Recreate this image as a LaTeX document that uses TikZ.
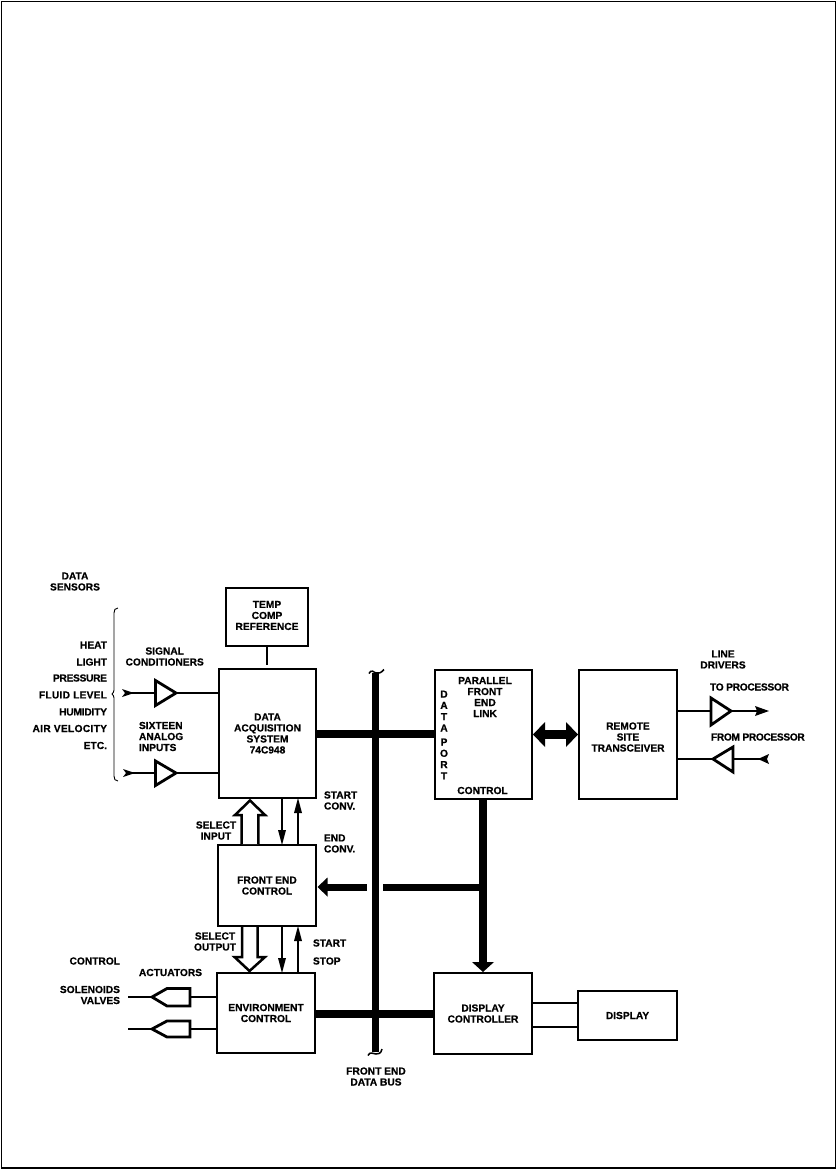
\documentclass[tikz,border=0pt]{standalone}
\usepackage{fontspec}
\setmainfont{Liberation Sans}[BoldFeatures={FakeBold=0.5}]
\usetikzlibrary{calc}
\newcommand{\spaced}[2]{{\addfontfeature{LetterSpace=#1}#2}}
\tikzset{
  x=1pt,y=-1pt,
  txt/.style={inner sep=0pt,outer sep=0pt,align=center,font=\fontsize{10.2}{11}\selectfont\bfseries},
  txtr/.style={txt,align=right,anchor=east},
  txtl/.style={txt,align=left,anchor=west},
  blockbox/.style={txt,draw=black,line width=2.7pt,fill=white,outer sep=0pt},
  wire/.style={draw=black,line width=2.6pt},
  bus/.style={draw=black,line width=7.5pt},
  amp/.style={draw=black,line width=2.8pt,fill=white,line join=miter},
  hollow/.style={draw=black,line width=2.5pt,fill=white,line join=miter},
  squiggle/.style={draw=black,line width=1.5pt}
}
\begin{document}
\begin{tikzpicture}
\useasboundingbox (0,0) rectangle (837,1169);
\fill[white] (0,0) rectangle (837,1169);
\draw[black,line width=1.3pt] (1.5,1.5) rectangle (835.5,1168);

% blocks
\node[blockbox,minimum width=82pt,minimum height=58pt] (temp) at (267,617) {};
\node[blockbox,minimum width=97pt,minimum height=129pt] (das) at (267.5,733.5) {DATA\\ACQUISITION\\SYSTEM\\74C948};
\node[blockbox,minimum width=98pt,minimum height=81pt] (fec) at (267,885.5) {FRONT END\\CONTROL};
\node[blockbox,minimum width=98pt,minimum height=80pt] (env) at (266,1013) {ENVIRONMENT\\CONTROL};
\node[blockbox,minimum width=97pt,minimum height=129pt] (pfl) at (483.5,734.5) {};
\node[blockbox,minimum width=98pt,minimum height=129pt] (rst) at (628,734.5) {};
\node[blockbox,minimum width=98pt,minimum height=81pt] (dc) at (483,1013.5) {DISPLAY\\CONTROLLER};
\node[blockbox,minimum width=99pt,minimum height=49pt] (dsp) at (627.5,1015.5) {DISPLAY};

% named points
\coordinate (bustop) at (375.5,673);
\coordinate (busbot) at (375.5,1052);
\coordinate (ybusA) at (0,734);
\coordinate (ybusB) at (0,1014);
\coordinate (yctl) at (0,887);
\coordinate (xctl) at (483,0);
\coordinate (tempend) at (267,664.5);
\coordinate (a1in) at (155.5,693);
\coordinate (a1out) at (176,693);
\coordinate (a2in) at (155.5,773);
\coordinate (a2out) at (176,773);
\coordinate (src1) at (128,693);
\coordinate (src2) at (128,773);
\coordinate (act1in) at (190,997);
\coordinate (act1out) at (128,997);
\coordinate (act2in) at (190,1029);
\coordinate (act2out) at (128,1029);
\coordinate (act1tip) at (152,997);
\coordinate (act2tip) at (152,1029);
\coordinate (d1in) at (711,711);
\coordinate (d1out) at (731,711);
\coordinate (d1end) at (762,711);
\coordinate (d2out) at (713,759);
\coordinate (d2in) at (733,759);
\coordinate (d2end) at (766,759);
\coordinate (xA) at (282,0);
\coordinate (xB) at (298,0);
\coordinate (ylink1) at (0,1003);
\coordinate (ylink2) at (0,1027);
\coordinate (gapL) at (367,887);
\coordinate (gapR) at (383,887);

% bus
\draw[bus] (bustop) -- (busbot);
\draw[squiggle] (369,673.5) .. controls (371,669) and (374,672) .. (376,673) .. controls (378,674) and (381,673) .. (384,669.5);
\draw[squiggle] (368,1055.5) .. controls (370,1051) and (373,1054) .. (376,1054) .. controls (378,1054) and (381,1054) .. (382,1049);
\draw[bus] (das.east |- ybusA) -- (pfl.west |- ybusA);
\draw[bus] (env.east |- ybusB) -- (dc.west |- ybusB);
\draw[wire] (temp.south) -- (tempend);

% control bus
\draw[bus,line width=8pt] (xctl |- pfl.south) -- (xctl |- 0,963);
\draw[bus,line width=7pt] (gapR) -- (xctl |- yctl);
\draw[bus,line width=7pt] ($(fec.east |- yctl)+(9,0)$) -- (gapL);
\fill[black] ($(fec.east |- yctl)+(1.5,0)$) -- +(10,-9.5) -- +(10,9.5) -- cycle;
\fill[black] ($(xctl |- dc.north)+(0,-1)$) -- +(-11,-10) -- +(11,-10) -- cycle;

% bidirectional
\draw[bus,line width=9pt] ($(pfl.east)+(12,0)$) -- ($(rst.west)+(-12,0)$);
\fill[black] ($(pfl.east)+(1,0)$) -- +(12,-12.5) -- +(12,12.5) -- cycle;
\fill[black] ($(rst.west)+(-1,0)$) -- +(-12,-12.5) -- +(-12,12.5) -- cycle;

% input side
\draw[wire] (src1) -- (a1in);
\draw[wire] (a1out) -- (a1out -| das.west);
\draw[wire] (src2) -- (a2in);
\draw[wire] (a2out) -- (a2out -| das.west);
\fill[black] (122,689) -- (134,693) -- (122,697) -- (125,693) -- cycle;
\fill[black] (123,769) -- (135,773) -- (123,777) -- (126,773) -- cycle;
\draw[amp] (155.5,680.5) -- (a1out) -- (155.5,705.5) -- cycle;
\draw[amp] (155.5,761) -- (a2out) -- (155.5,785.5) -- cycle;

% brace
\draw[black,line width=.9pt] (118,608) .. controls (115,608) and (114,610) .. (114,613) -- (114,690) .. controls (114,692) and (113,693) .. (112,694) .. controls (113,695) and (114,696) .. (114,698) -- (114,776) .. controls (114,779) and (115,781) .. (118,781);

% select input
\draw[hollow] (241.7,844) -- (241.7,815) -- (235,815) -- (250,800.5) -- (265,815) -- (258.3,815) -- (258.3,844);
\draw[wire] (xA |- das.south) -- (xA |- 0,840);
\fill[black] (xA |- fec.north) -- +(-4,-15) -- +(4,-15) -- cycle;
\draw[wire] (xB |- fec.north) -- (xB |- 0,805);
\fill[black] (xB |- das.south) -- +(-4,15) -- +(4,15) -- cycle;

% select output
\draw[hollow] (242,927) -- (242,957) -- (234.5,957) -- (249.5,971) -- (265,957) -- (257.7,957) -- (257.7,927);
\draw[wire] (xA |- fec.south) -- (xA |- 0,966);
\fill[black] (xA |- env.north) -- +(-4,-15) -- +(4,-15) -- cycle;
\draw[wire] (xB |- env.north) -- (xB |- 0,933);
\fill[black] (xB |- fec.south) -- +(-4,15) -- +(4,15) -- cycle;

% actuators
\draw[wire] (act1out) -- (act1tip);
\draw[wire] (act1in) -- (act1in -| env.west);
\draw[amp] (act1tip) -- (167,988.5) -- (190,988.5) -- (190,1006) -- (167,1006) -- cycle;
\draw[wire] (act2out) -- (act2tip);
\draw[wire] (act2in) -- (act2in -| env.west);
\draw[amp] (act2tip) -- (167,1021) -- (190,1021) -- (190,1037) -- (167,1037) -- cycle;

% line drivers
\draw[wire] (rst.east |- d1in) -- (d1in);
\draw[wire] (d1out) -- (d1end);
\fill[black] (769,711) -- (755,706) -- (757,711) -- (755,716) -- cycle;
\draw[amp] (711,698) -- (d1out) -- (711,725) -- cycle;
\draw[wire] (rst.east |- d2out) -- (d2out);
\draw[wire] (d2in) -- (d2end);
\fill[black] (758,759) -- (769,754) -- (767,759) -- (769,764) -- cycle;
\draw[amp] (d2out) -- (733,747) -- (733,772) -- cycle;

% display links
\draw[wire] (dc.east |- ylink1) -- (dsp.west |- ylink1);
\draw[wire] (dc.east |- ylink2) -- (dsp.west |- ylink2);

% text
\node[txt] (t1) at (75,581.5) {DATA\\SENSORS};
\node[txt] (t2) at (267,615.5) {TEMP\\COMP\\REFERENCE};
\node[txt] (t3) at (164.7,656.5) {SIGNAL\\CONDITIONERS};
\node[txtl] (t4) at (139,736.5) {SIXTEEN\\ANALOG\\INPUTS};
\node[txtr] (h1) at (107,645) {HEAT};
\node[txtr] (h2) at (107,662) {LIGHT};
\node[txtr] (h3) at (107,678) {\spaced{-3}{PRESSURE}};
\node[txtr] (h4) at (107,695) {\spaced{2.5}{FLUID LEVEL}};
\node[txtr] (h5) at (107,712) {\spaced{-2}{HUMIDITY}};
\node[txtr] (h6) at (107,728.5) {\spaced{3}{AIR VELOCITY}};
\node[txtr] (h7) at (107,745.5) {ETC.};
\node[txt] (s1) at (216,830.5) {SELECT\\INPUT};
\node[txtl] (s2) at (324,800.5) {START\\CONV.};
\node[txtl] (s3) at (324,843.5) {END\\CONV.};
\node[txt] (s4) at (215,941.5) {SELECT\\OUTPUT};
\node[txtl] (s5) at (313,943) {START};
\node[txtl] (s6) at (313,961) {STOP};
\node[txtr] (c1) at (120,961) {CONTROL};
\node[txt] (c2) at (170.5,972.5) {ACTUATORS};
\node[txtr] (c3) at (120,995) {SOLENOIDS\\VALVES};
\node[txt] (b1) at (376,1076.5) {FRONT END\\DATA BUS};
\node[txt] (p1) at (485,697) {PARALLEL\\FRONT\\END\\LINK};
\node[txt] (p2) at (444,735) {D\\[.3pt]A\\[.3pt]T\\[.3pt]A\\[3pt]P\\[.3pt]O\\[.3pt]R\\[.3pt]T};
\node[txt] (p3) at (482.5,790.5) {CONTROL};
\node[txt] (r1) at (628,737) {REMOTE\\SITE\\TRANSCEIVER};
\node[txt] (l1) at (723,659.5) {LINE\\DRIVERS};
\node[txtl] (l2) at (710,687) {\spaced{-3}{TO PROCESSOR}};
\node[txtl] (l3) at (711,737) {\spaced{-3.5}{FROM PROCESSOR}};
\end{tikzpicture}
\end{document}
